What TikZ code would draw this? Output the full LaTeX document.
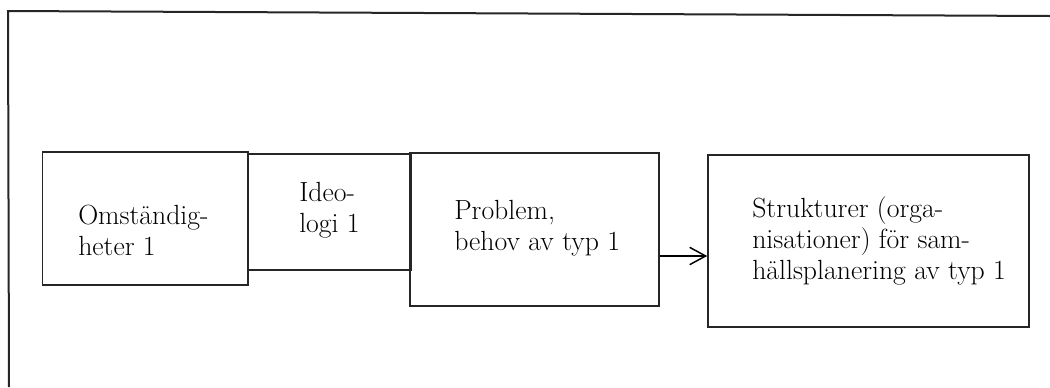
\documentclass[tikz,border=0pt]{standalone}
\usetikzlibrary{arrows.meta}

\tikzset{
  frameline/.style={line width=1.5pt, black!85},
  boxshape/.style={draw, line width=1.2pt, black!85, rectangle, inner sep=0pt},
  boxtext/.style={anchor=base west, inner sep=0pt,
    font=\fontsize{20.8pt}{23.3pt}\selectfont},
  linkarrow/.style={line width=0.9pt, -{Straight Barb[length=12pt,width=13pt,line width=1.1pt]}}
}

\newcommand{\lines}[1]{\begin{tabular}[t]{@{}l@{}}#1\end{tabular}}

\begin{document}
\begin{tikzpicture}[x=0.75pt,y=-0.75pt]
  \useasboundingbox (0,0) rectangle (1050,387);

  % outer frame (only top and left edges fall inside the page)
  \coordinate (fr) at (1050,16);
  \coordinate (fc) at (8,11);
  \coordinate (fb) at (9,387);
  \draw[frameline] (fr) -- (fc) -- (fb);

  % boxes
  \node[boxshape, minimum width=205.5*0.75pt, minimum height=133*0.75pt] (b1) at (145.35,218.5) {};
  \node[boxshape, minimum width=163*0.75pt, minimum height=116*0.75pt] (b2) at (329.5,212) {};
  \node[boxshape, minimum width=249*0.75pt, minimum height=153*0.75pt] (b3) at (534.5,229.5) {};
  \node[boxshape, minimum width=321*0.75pt, minimum height=172*0.75pt] (b4) at (868.5,241) {};

  % texts
  \node[boxtext] (t1) at (78,224) {\lines{Omständig-\\heter 1}};
  \node[boxtext] (t2) at (299,201) {\lines{Ideo-\\logi 1}};
  \node[boxtext] (t3) at (454,219) {\lines{Problem,\\behov av typ 1}};
  \node[boxtext] (t4) at (752,217) {\lines{Strukturer (orga-\\nisationer) för sam-\\hällsplanering av typ 1}};

  % connector
  \coordinate (ay) at (0,256);
  \draw[linkarrow] (b3.east |- ay) -- (b4.west |- ay);
\end{tikzpicture}
\end{document}
